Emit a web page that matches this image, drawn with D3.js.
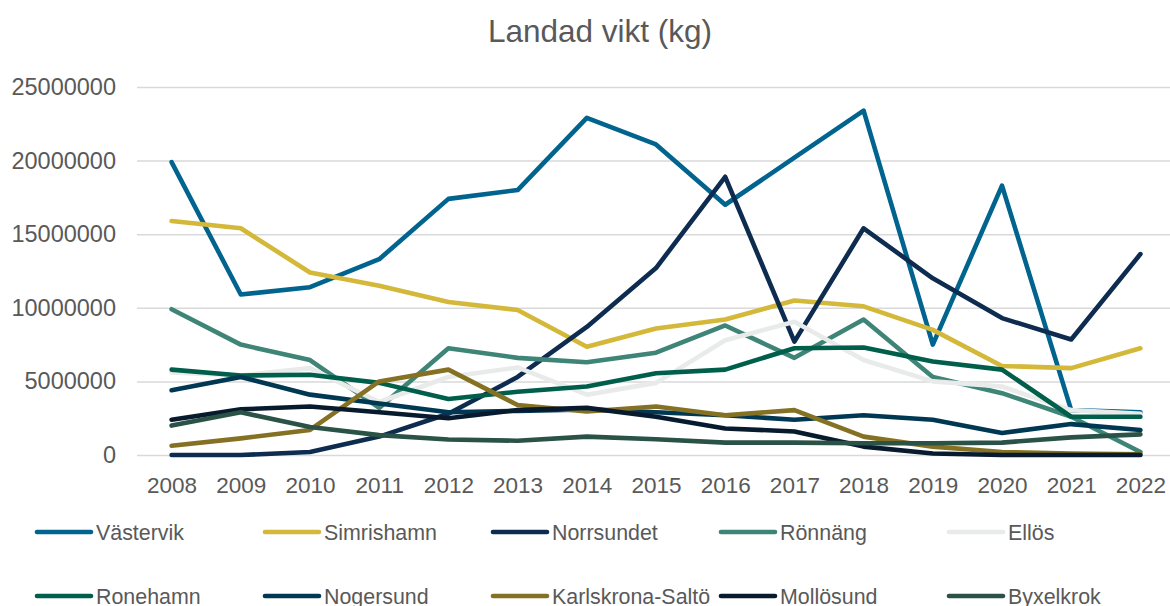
<!DOCTYPE html>
<html>
<head>
<meta charset="utf-8">
<script src="https://cdn.jsdelivr.net/npm/d3@7"></script>
<style>
  body { margin: 0; background: #fff; }
  text { font-family: "Liberation Sans", Arial, sans-serif; fill: #595959; }
</style>
</head>
<body>
<div id="chart"></div>
<script>
var years = [2008, 2009, 2010, 2011, 2012, 2013, 2014, 2015, 2016, 2017, 2018, 2019, 2020, 2021, 2022];
var yTicks = [0, 5000000, 10000000, 15000000, 20000000, 25000000];

var names = ["Västervik", "Simrishamn", "Norrsundet", "Rönnäng", "Ellös",
             "Ronehamn", "Nogersund", "Karlskrona-Saltö", "Mollösund", "Byxelkrok"];
var colors = ["#00648e", "#d4b83a", "#0d2c4f", "#3e8577", "#e8ebea",
              "#005f4b", "#003853", "#857124", "#071a2e", "#2b5247"];

// values in million kg
var vastervik   = [19.9, 10.9, 11.4, 13.3, 17.4, 18.0, 22.9, 21.1, 17.0, 20.2, 23.4, 7.5, 18.3, 3.05, 2.9];
var simrishamn  = [15.9, 15.4, 12.4, 11.5, 10.4, 9.85, 7.35, 8.6, 9.2, 10.5, 10.1, 8.5, 6.05, 5.9, 7.25];
var norrsundet  = [0, 0, 0.2, 1.25, 2.8, 5.3, 8.7, 12.7, 18.9, 7.7, 15.4, 12.0, 9.3, 7.85, 13.65];
var ronnang     = [9.9, 7.5, 6.45, 3.2, 7.25, 6.6, 6.3, 6.95, 8.8, 6.6, 9.2, 5.3, 4.2, 2.6, 0.2];
var ellos       = [5.6, 5.4, 5.9, 3.6, 5.3, 5.95, 4.1, 4.9, 7.8, 9.05, 6.45, 5.0, 4.65, 3.05, 2.8];
var ronehamn    = [5.8, 5.4, 5.45, 4.9, 3.8, 4.3, 4.65, 5.55, 5.8, 7.25, 7.3, 6.35, 5.8, 2.6, 2.6];
var nogersund   = [4.4, 5.3, 4.1, 3.5, 2.9, 3.0, 3.1, 2.9, 2.7, 2.4, 2.7, 2.4, 1.5, 2.1, 1.7];
var karlskrona  = [0.63, 1.13, 1.7, 5.0, 5.8, 3.4, 2.95, 3.3, 2.7, 3.05, 1.25, 0.57, 0.2, 0.1, 0.05];
var mollosund   = [2.4, 3.1, 3.3, 2.9, 2.5, 3.05, 3.2, 2.6, 1.8, 1.6, 0.57, 0.1, 0, 0, 0];
var byxelkrok   = [2.0, 2.9, 1.9, 1.35, 1.05, 0.97, 1.25, 1.07, 0.84, 0.84, 0.8, 0.8, 0.84, 1.2, 1.4];

var allValues = [vastervik, simrishamn, norrsundet, ronnang, ellos,
                 ronehamn, nogersund, karlskrona, mollosund, byxelkrok];

var series = names.map(function (n, i) {
    return {
        name: n,
        color: colors[i],
        values: allValues[i].map(function (v, j) { return [years[j], v * 1000000]; })
    };
});

var svgWidth = 1170, svgHeight = 606;
var plotLeft = 137, plotRight = 1175, plotTop = 87, plotBottom = 455;

var svg = d3.select("#chart")
    .append("svg")
    .attr("width", svgWidth)
    .attr("height", svgHeight);

var xScale = d3.scalePoint()
    .domain(years)
    .range([plotLeft, plotRight])
    .padding(0.5);

var yScale = d3.scaleLinear()
    .domain([0, 25000000])
    .range([plotBottom, plotTop]);

// title
svg.append("text")
    .attr("x", 600)
    .attr("y", 42)
    .attr("text-anchor", "middle")
    .attr("font-size", 31.5)
    .text("Landad vikt (kg)");

// y axis with gridlines
var yAxis = d3.axisLeft(yScale)
    .tickValues(yTicks)
    .tickFormat(d3.format("d"))
    .tickSize(-(svgWidth - plotLeft))
    .tickPadding(21);

var gy = svg.append("g")
    .attr("transform", "translate(" + plotLeft + ",0)")
    .call(yAxis);
gy.select(".domain").remove();
gy.selectAll("line").attr("stroke", "#d9d9d9").attr("stroke-width", 1.5);
gy.selectAll("text").attr("font-size", 23.5).attr("fill", "#595959");

// x axis
var xAxis = d3.axisBottom(xScale).tickSize(0);
var gx = svg.append("g")
    .attr("transform", "translate(0," + plotBottom + ")")
    .call(xAxis);
gx.select(".domain").remove();
gx.selectAll("text")
    .attr("y", 38)
    .attr("dy", 0)
    .attr("font-size", 22.5)
    .attr("fill", "#595959");

// lines
var line = d3.line()
    .x(function (d) { return xScale(d[0]); })
    .y(function (d) { return yScale(d[1]); });

svg.selectAll(".series")
    .data(series)
    .enter()
    .append("path")
    .attr("class", "series")
    .attr("fill", "none")
    .attr("stroke", function (d) { return d.color; })
    .attr("stroke-width", 4.6)
    .attr("stroke-linejoin", "round")
    .attr("stroke-linecap", "round")
    .attr("d", function (d) { return line(d.values); });

// legend, two rows of five
var legend = svg.selectAll(".legend")
    .data(series)
    .enter()
    .append("g")
    .attr("class", "legend")
    .attr("transform", function (d, i) {
        return "translate(" + (37 + (i % 5) * 228) + "," + (532 + Math.floor(i / 5) * 64) + ")";
    });

legend.append("line")
    .attr("x1", 0).attr("x2", 54)
    .attr("y1", 0).attr("y2", 0)
    .attr("stroke", function (d) { return d.color; })
    .attr("stroke-width", 4.6)
    .attr("stroke-linecap", "round");

legend.append("text")
    .attr("x", 59)
    .attr("y", 0)
    .attr("dy", "0.36em")
    .attr("font-size", 21.4)
    .text(function (d) { return d.name; });
</script>
</body>
</html>
